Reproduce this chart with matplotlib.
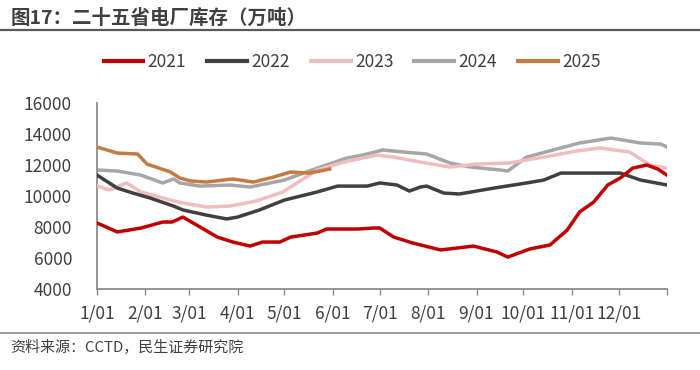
import matplotlib
matplotlib.use("Agg")
import matplotlib.pyplot as plt

plt.rcParams['font.family'] = ['Noto Sans CJK SC', 'DejaVu Sans']

# day-of-year positions and stock values (10k tons)
days_2021 = [0, 13, 28, 42, 48, 55, 66, 77, 87, 98, 106, 117, 124, 141, 147, 167, 177,
             181, 190, 202, 220, 241, 256, 263, 277, 290, 301, 309, 318, 327, 335, 343,
             352, 359, 365]
vals_2021 = [8260, 7680, 7930, 8320, 8320, 8640, 8000, 7350, 7030, 6770, 7030, 7030, 7350,
             7610, 7870, 7870, 7935, 7935, 7350, 6970, 6520, 6770, 6390, 6060, 6580, 6840,
             7800, 8970, 9610, 10710, 11160, 11800, 12000, 11740, 11350]

days_2022 = [0, 13, 23, 34, 49, 55, 70, 83, 90, 104, 120, 141, 154, 173, 181, 192, 200,
             207, 211, 222, 232, 254, 275, 286, 297, 309, 335, 348, 365]
vals_2022 = [11350, 10510, 10190, 9870, 9350, 9100, 8770, 8520, 8640, 9100, 9740, 10260,
             10640, 10640, 10840, 10710, 10320, 10580, 10640, 10190, 10130, 10510, 10840,
             11030, 11480, 11480, 11480, 11030, 10710]

days_2023 = [0, 8, 19, 28, 47, 55, 70, 85, 102, 119, 141, 158, 179, 190, 207, 226, 243,
             264, 286, 307, 322, 341, 354, 365]
vals_2023 = [10640, 10390, 10840, 10260, 9740, 9550, 9290, 9350, 9680, 10260, 11680, 12190,
             12640, 12510, 12190, 11870, 12060, 12130, 12510, 12900, 13100, 12840, 12000,
             11800]

days_2024 = [0, 13, 28, 42, 49, 53, 66, 85, 98, 120, 141, 160, 170, 183, 196, 211, 226,
             239, 258, 263, 275, 292, 309, 329, 348, 361, 365]
vals_2024 = [11680, 11610, 11350, 10840, 11100, 10840, 10640, 10710, 10580, 11030, 11800,
             12450, 12640, 12970, 12840, 12710, 12130, 11870, 11680, 11610, 12510, 12970,
             13420, 13740, 13420, 13350, 13160]

days_2025 = [0, 13, 26, 32, 47, 53, 60, 70, 87, 100, 113, 124, 136, 149]
vals_2025 = [13160, 12770, 12710, 12060, 11550, 11160, 10970, 10900, 11100, 10900, 11220,
             11550, 11480, 11740]

tick_days = [0, 31, 59, 90, 120, 151, 181, 212, 243, 273, 304, 334, 365]
tick_labels = ['1/01', '2/01', '3/01', '4/01', '5/01', '6/01', '7/01', '8/01', '9/01',
               '10/01', '11/01', '12/01', '']

fig = plt.figure(figsize=(7, 3.7), dpi=100)
ax = fig.add_axes([0.1386, 0.2189, 0.8144, 0.5027])

ax.plot(days_2021, vals_2021, color='#C00000', lw=2.5, label='2021', zorder=6)
ax.plot(days_2022, vals_2022, color='#404040', lw=2.5, label='2022', zorder=4)
ax.plot(days_2023, vals_2023, color='#EFBDBE', lw=2.5, label='2023', zorder=3)
ax.plot(days_2024, vals_2024, color='#A6A6A6', lw=2.5, label='2024', zorder=2)
ax.plot(days_2025, vals_2025, color='#C47A42', lw=2.5, label='2025', zorder=5)

ax.set_xlim(0, 365)
ax.set_ylim(4000, 16000)
ax.set_yticks(range(4000, 16001, 2000))
ax.set_xticks(tick_days)
ax.set_xticklabels(tick_labels)

for s in ['top', 'right']:
    ax.spines[s].set_visible(False)
for s in ['left', 'bottom']:
    ax.spines[s].set_color('#8C8C8C')
    ax.spines[s].set_linewidth(1.3)

ax.tick_params(axis='y', length=0, pad=18, labelsize=12.5, labelcolor='#404040')
ax.tick_params(axis='x', length=4, width=1, color='#8C8C8C', pad=7,
               labelsize=12.5, labelcolor='#404040')

leg = fig.legend(loc='center', bbox_to_anchor=(0.503, 0.832), ncol=5, frameon=False,
                 fontsize=12.5, handlelength=2.3, handletextpad=0.25, columnspacing=1.2)
for t in leg.get_texts():
    t.set_color('#404040')
for h in leg.get_lines():
    h.set_linewidth(3)

# title and source, with the rule lines
fig.text(0.015, 0.95, '图17：二十五省电厂库存（万吨）', fontsize=14, fontweight='bold',
         color='#404040', va='center', ha='left')
fig.add_artist(plt.Line2D([0, 1], [0.918, 0.918], color='#595959', lw=1.6))
fig.add_artist(plt.Line2D([0, 1], [0.1, 0.1], color='#8C8C8C', lw=1.2))
fig.text(0.015, 0.062, '资料来源：CCTD，民生证券研究院', fontsize=10.8, color='#404040',
         va='center', ha='left')

fig.savefig('out.png', dpi=100)
